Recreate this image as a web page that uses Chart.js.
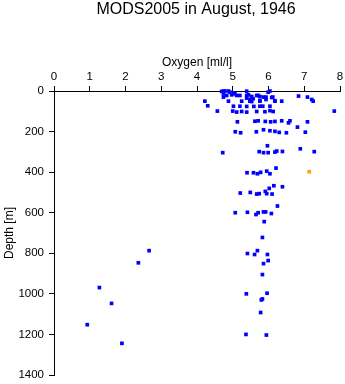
<!DOCTYPE html>
<html>
<head>
<meta charset="utf-8">
<title>MODS2005 in August, 1946</title>
<script src="https://cdn.jsdelivr.net/npm/chart.js@4/dist/chart.umd.min.js"></script>
<style>
  body { margin: 0; background: #fff; }
  canvas { display: block; }
</style>
</head>
<body>
<canvas id="chart" width="345" height="384"></canvas>
<script>
// Profile readings (oxygen in ml/l, depth in m)
const oxygen = [
    4.69, 4.74, 4.78, 4.88, 4.92, 5.02, 5.06, 4.97, 4.83, 4.74, 5.11, 5.39, 5.39, 5.53, 5.67, 5.99, 6.04, 5.44,
    5.71, 4.74, 5.20, 5.76, 5.93, 6.12, 6.84, 7.09, 5.39, 5.48, 5.57, 5.53, 5.86, 5.93, 6.09, 6.18, 5.76, 7.21,
    4.22, 4.88, 5.25, 5.48, 5.76, 6.18, 6.37, 7.25,
    4.30, 5.02, 5.20, 5.39, 5.59, 5.76, 5.84, 6.04,
    4.57, 5.00, 5.11, 5.25, 5.39, 5.67, 5.90, 6.04, 6.13, 7.84,
    5.13, 5.62, 5.71, 5.91, 6.06, 6.18, 6.37, 6.56, 6.60, 7.09, 6.81,
    5.07, 5.22, 5.66, 5.86, 6.04, 6.18, 6.30, 6.50, 7.03,
    4.72, 5.74, 5.86, 5.99, 6.18, 6.23, 6.39, 5.97, 6.89, 7.28,
    5.40, 5.58, 5.69, 5.78, 5.95, 6.04, 6.21,
    5.21, 5.49, 5.67, 5.74, 5.91, 5.95, 6.10, 6.02, 6.15, 6.39,
    6.25, 5.07, 5.41, 5.65, 5.71, 5.86, 5.92, 6.08,
    5.88, 5.83, 5.69, 5.41, 5.61, 5.97, 5.99, 5.86, 5.83, 5.38, 5.96, 5.83, 5.80, 5.78, 5.37, 5.94,
    2.66, 2.36, 1.27, 1.61, 0.93, 1.90
];
const depth = [
    2, 14, 0, 0, 6, 9, 14, 19, 22, 1, 22, 1, 22, 27, 22, 6, 0, 19,
    22, 30, 22, 27, 30, 30, 25, 30, 35, 42, 38, 52, 30, 42, 32, 48, 47, 42,
    50, 50, 50, 50, 50, 50, 50, 50,
    73, 75, 75, 76, 76, 75, 75, 75,
    99, 99, 104, 101, 104, 101, 102, 97, 101, 99,
    152, 149, 147, 150, 152, 150, 147, 157, 147, 152, 178,
    201, 206, 201, 191, 196, 199, 204, 206, 203,
    304, 299, 304, 304, 301, 296, 298, 270, 285, 299,
    403, 403, 408, 401, 395, 408, 380,
    503, 500, 508, 506, 495, 506, 508, 480, 467, 472,
    567, 600, 598, 609, 600, 596, 596, 604,
    644, 722, 787, 801, 806, 806, 836, 851, 905, 1000, 997, 1025, 1030, 1092, 1200, 1203,
    787, 847, 969, 1047, 1152, 1244
];

// the single flagged reading
const flagOxygen = [7.14];
const flagDepth = [398];

const xTicks = [0, 1, 2, 3, 4, 5, 6, 7, 8];
const yTicks = [0, 200, 400, 600, 800, 1000, 1200, 1400];

const FONT = "'Liberation Sans', Arial, Helvetica, sans-serif";

function toPoints(xs, ys) {
    return xs.map((x, i) => ({ x: x, y: ys[i] }));
}

// chart title drawn above the top axis
const titlePlugin = {
    id: "topTitle",
    afterDraw(chart) {
        const ctx = chart.ctx;
        ctx.save();
        ctx.fillStyle = "#000";
        ctx.font = "16px " + FONT;
        ctx.textAlign = "center";
        ctx.textBaseline = "alphabetic";
        ctx.fillText("MODS2005 in August, 1946", 196, 14);
        ctx.restore();
    }
};

const ctx = document.getElementById("chart").getContext("2d");
new Chart(ctx, {
    type: "scatter",
    data: {
        datasets: [{
            label: "MODS2005",
            data: toPoints(oxygen, depth),
            backgroundColor: "#0000ff",
            pointStyle: "rect",
            pointRadius: 2.6,
            borderWidth: 0,
            clip: false
        }, {
            label: "flagged",
            data: toPoints(flagOxygen, flagDepth),
            backgroundColor: "#ffa500",
            pointStyle: "rect",
            pointRadius: 2.6,
            borderWidth: 0,
            clip: false
        }]
    },
    options: {
        responsive: false,
        animation: false,
        layout: { padding: { top: 0, left: 0, right: 5, bottom: 9 } },
        plugins: {
            legend: { display: false },
            tooltip: { enabled: false },
            title: { display: false }
        },
        scales: {
            x: {
                type: "linear",
                position: "top",
                min: 0,
                max: 8,
                afterBuildTicks: (scale) => { scale.ticks = xTicks.map(v => ({ value: v })); },
                afterFit: (scale) => {
                    scale.height = 91;
                    scale.paddingLeft = 0;
                    scale.paddingRight = 0;
                },
                ticks: { color: "#000", font: { family: FONT, size: 11.5 }, padding: 2, maxRotation: 0,
                         callback: (v) => String(v) },
                grid: { display: true, drawOnChartArea: false, drawTicks: true, tickLength: 5, color: "#000", lineWidth: 1 },
                border: { display: true, color: "#000", width: 1 },
                title: { display: true, text: "Oxygen [ml/l]", color: "#000", font: { family: FONT, size: 12 }, padding: { top: 55, bottom: 0 } }
            },
            y: {
                type: "linear",
                position: "left",
                reverse: true,
                min: 0,
                max: 1400,
                afterBuildTicks: (scale) => { scale.ticks = yTicks.map(v => ({ value: v })); },
                afterFit: (scale) => {
                    scale.width = 54;
                    scale.paddingTop = 0;
                    scale.paddingBottom = 0;
                },
                ticks: { color: "#000", font: { family: FONT, size: 11.5 }, padding: 5,
                         callback: (v) => String(v) },
                grid: { display: true, drawOnChartArea: false, drawTicks: true, tickLength: 5, color: "#000", lineWidth: 1 },
                border: { display: true, color: "#000", width: 1 },
                title: { display: true, text: "Depth [m]", color: "#000", font: { family: FONT, size: 12 }, padding: { top: 2, bottom: 0 } }
            }
        }
    },
    plugins: [titlePlugin]
});
</script>
</body>
</html>
